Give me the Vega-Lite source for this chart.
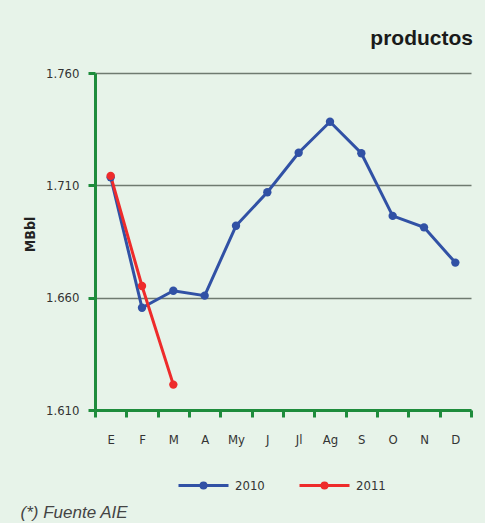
{
  "$schema": "https://vega.github.io/schema/vega-lite/v6.json",
  "width": 376,
  "height": 337,
  "autosize": "none",
  "padding": {"left": 95, "top": 73, "right": 14, "bottom": 113},
  "background": "#e7f3e9",
  "title": {
    "text": "productos",
    "anchor": "end",
    "frame": "group",
    "font": "Liberation Sans",
    "fontSize": 21,
    "fontWeight": "bold",
    "color": "#1a1a1a",
    "offset": 18,
    "dx": 2
  },
  "data": {
    "values": [
      {"month": "E", "year": "2010", "value": 1.7136},
      {"month": "F", "year": "2010", "value": 1.6555},
      {"month": "M", "year": "2010", "value": 1.6631},
      {"month": "A", "year": "2010", "value": 1.6609},
      {"month": "My", "year": "2010", "value": 1.6920},
      {"month": "J", "year": "2010", "value": 1.7069},
      {"month": "Jl", "year": "2010", "value": 1.7245},
      {"month": "Ag", "year": "2010", "value": 1.7383},
      {"month": "S", "year": "2010", "value": 1.7243},
      {"month": "O", "year": "2010", "value": 1.6964},
      {"month": "N", "year": "2010", "value": 1.6913},
      {"month": "D", "year": "2010", "value": 1.6756},
      {"month": "E", "year": "2011", "value": 1.7142},
      {"month": "F", "year": "2011", "value": 1.6652},
      {"month": "M", "year": "2011", "value": 1.6213}
    ]
  },
  "encoding": {
    "x": {
      "field": "month",
      "type": "nominal",
      "sort": ["E", "F", "M", "A", "My", "J", "Jl", "Ag", "S", "O", "N", "D"],
      "scale": {"type": "band", "paddingInner": 0, "paddingOuter": 0},
      "axis": {
        "title": "(*) Fuente AIE",
        "tickBand": "extent",
        "labelAngle": 0,
        "grid": false,
        "domainColor": "#1e8c3c",
        "domainWidth": 3,
        "tickColor": "#1e8c3c",
        "tickWidth": 3,
        "tickSize": 7,
        "labelFont": "'Liberation Sans Narrow', 'DejaVu Sans Condensed', 'DejaVu Sans', sans-serif",
        "labelFontSize": 13,
        "labelColor": "#333333",
        "labelPadding": 16,
        "titleFont": "Liberation Sans",
        "titleFontStyle": "italic",
        "titleFontWeight": "normal",
        "titleFontSize": 17,
        "titleColor": "#444444",
        "titleAnchor": "start",
        "titleAlign": "left",
        "titleBaseline": "alphabetic",
        "titleX": -75,
        "titleY": 107
      }
    },
    "y": {
      "field": "value",
      "type": "quantitative",
      "scale": {"domain": [1.61, 1.76], "nice": false, "zero": false},
      "axis": {
        "values": [1.61, 1.66, 1.71, 1.76],
        "format": ".3f",
        "title": "MBbl",
        "grid": true,
        "gridColor": "#6f7a70",
        "gridWidth": 1.5,
        "domainColor": "#1e8c3c",
        "domainWidth": 3,
        "tickColor": "#1e8c3c",
        "tickWidth": 3,
        "tickSize": 7,
        "labelFont": "'Liberation Sans Narrow', 'DejaVu Sans Condensed', 'DejaVu Sans', sans-serif",
        "labelFontSize": 13,
        "labelColor": "#333333",
        "labelPadding": 9,
        "titleFont": "'Liberation Sans Narrow', 'DejaVu Sans Condensed', 'DejaVu Sans', sans-serif",
        "titleFontWeight": "bold",
        "titleFontSize": 14,
        "titleColor": "#222222",
        "titleAngle": -90,
        "titleAlign": "center",
        "titleBaseline": "middle",
        "titleX": -65,
        "titleY": 161
      }
    },
    "color": {
      "field": "year",
      "type": "nominal",
      "scale": {"domain": ["2010", "2011"], "range": ["#3151a5", "#ee2b2b"]},
      "legend": {
        "title": null,
        "orient": "none",
        "direction": "horizontal",
        "legendX": 82,
        "legendY": 386,
        "symbolType": "M-1,0L1,0M0.1,0A0.1,0.1,0,1,1,-0.1,0A0.1,0.1,0,1,1,0.1,0Z",
        "symbolSize": 2500,
        "symbolStrokeWidth": 3,
        "labelFont": "'Liberation Sans Narrow', 'DejaVu Sans Condensed', 'DejaVu Sans', sans-serif",
        "labelFontSize": 13,
        "labelColor": "#333333",
        "labelOffset": 5,
        "columnPadding": 28,
        "encode": {
          "symbols": {
            "update": {
              "fill": {"scale": "color", "field": "value"},
              "stroke": {"scale": "color", "field": "value"},
              "strokeWidth": {"value": 3},
              "opacity": {"value": 1}
            }
          }
        }
      }
    }
  },
  "layer": [
    {"mark": {"type": "line", "strokeWidth": 3}},
    {"mark": {"type": "point", "filled": true, "size": 70, "opacity": 1}}
  ],
  "config": {
    "view": {"stroke": null}
  }
}
